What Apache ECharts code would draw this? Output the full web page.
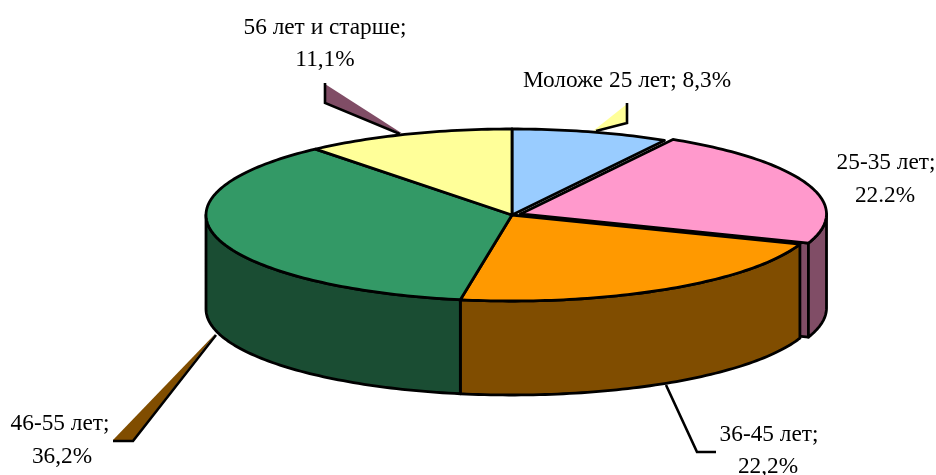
<!DOCTYPE html>
<html>
<head>
<meta charset="utf-8">
<style>
  html, body { margin: 0; padding: 0; background: #fff; }
  #chart { width: 936px; height: 475px; }
</style>
<script src="https://cdn.jsdelivr.net/npm/echarts@6/dist/echarts.min.js"></script>
</head>
<body>
<div id="chart"></div>
<script>
// доли возрастных групп, %
const categories = ['Моложе 25 лет', '25-35 лет', '36-45 лет', '46-55 лет', '56 лет и старше']
const shares = [8.3, 22.2, 22.2, 36.2, 11.1]
const shareLabels = ['8,3%', '22.2%', '22,2%', '36,2%', '11,1%']

const topColors = ['#99CCFF', '#FF99CC', '#FF9900', '#339966', '#FFFF99']
const sideColors = ['#4D6680', '#804D66', '#804D00', '#1A4D33', '#80804D']

const cx = 512
const cy = 215
const rx = 306
const ry = 86
const depth = 94
const lineW = 2.8
// смещение выдвинутого сектора
const offsets = { 1: [8.5, -1] }

const total = shares.reduce((a, b) => a + b, 0)

function toAngle (v) {
  return echarts.number.linearMap(v, [0, total], [0, Math.PI * 2])
}

function sliceRange (i) {
  const before = shares.slice(0, i).reduce((a, b) => a + b, 0)
  return [toAngle(before), toAngle(before + shares[i])]
}

function rimPoints (a0, a1, ox, oy) {
  const pts = []
  const steps = Math.max(2, Math.ceil((a1 - a0) / 0.02))
  for (let k = 0; k <= steps; k++) {
    const a = a0 + (a1 - a0) * k / steps
    pts.push([cx + ox + rx * Math.sin(a), cy + oy - ry * Math.cos(a)])
  }
  return pts
}

function outline (fill) {
  return { fill: fill, stroke: '#000', lineWidth: lineW, lineJoin: 'round' }
}

// боковые стенки, только передняя половина эллипса
function renderWall (params) {
  const i = params.dataIndex
  const range = sliceRange(i)
  const off = offsets[i] || [0, 0]
  const children = []
  if (offsets[i]) {
    const end = rimPoints(range[1], range[1], off[0], off[1])[0]
    const mid = [cx + off[0], cy + off[1]]
    children.push({
      type: 'polygon',
      shape: { points: [mid, end, [end[0], end[1] + depth], [mid[0], mid[1] + depth]] },
      style: outline(sideColors[i])
    })
  }
  const a0 = Math.max(range[0], Math.PI / 2)
  const a1 = Math.min(range[1], Math.PI * 1.5)
  if (a1 > a0) {
    const upper = rimPoints(a0, a1, off[0], off[1])
    const lower = upper.map(p => [p[0], p[1] + depth]).reverse()
    children.push({
      type: 'polygon',
      shape: { points: upper.concat(lower) },
      style: outline(sideColors[i])
    })
  }
  return { type: 'group', children: children }
}

function renderTop (params) {
  const i = params.dataIndex
  const range = sliceRange(i)
  const off = offsets[i] || [0, 0]
  const pts = rimPoints(range[0], range[1], off[0], off[1])
  pts.unshift([cx + off[0], cy + off[1]])
  return { type: 'polygon', shape: { points: pts }, style: outline(topColors[i]) }
}

// выноски
function wedge (fillPts, linePts, fill) {
  return [
    { type: 'polygon', z: 1, silent: true, shape: { points: fillPts }, style: { fill: fill } },
    { type: 'polyline', z: 1, silent: true, shape: { points: linePts }, style: { stroke: '#000', lineWidth: 2.6, fill: 'none' } }
  ]
}

function label (text, x, y) {
  return {
    type: 'text', z: 10, silent: true, x: x, y: y,
    style: {
      text: text, fill: '#000', font: '23.3px "Liberation Serif"',
      align: 'center', verticalAlign: 'middle'
    }
  }
}

const leaders = [].concat(
  wedge([[627, 104], [627, 123], [593, 131]], [[627, 103], [627, 123], [596, 131]], topColors[4]),
  wedge([[325, 84], [325, 103], [403, 134]], [[325, 83], [325, 103], [400, 134]], sideColors[1]),
  wedge([[113, 440], [133, 440], [216, 333]], [[113, 441], [133, 441], [216, 335]], sideColors[2]),
  [{
    type: 'polyline', z: 1, silent: true,
    shape: { points: [[666, 385], [697, 452], [716, 452]] },
    style: { stroke: '#000', lineWidth: 2.6, fill: 'none' }
  }]
)

const labels = [
  label(categories[0] + '; ' + shareLabels[0], 627, 81),
  label(categories[1] + ';', 886, 163),
  label(shareLabels[1], 885, 196),
  label(categories[2] + ';', 769, 435),
  label(shareLabels[2], 768, 467),
  label(categories[3] + ';', 60, 424),
  label(shareLabels[3], 62, 457),
  label(categories[4] + ';', 325, 28),
  label(shareLabels[4], 325, 60)
]

const myChart = echarts.init(document.getElementById('chart'))
myChart.setOption({
  animation: false,
  backgroundColor: '#fff',
  graphic: { elements: leaders.concat(labels) },
  series: [
    { type: 'custom', coordinateSystem: 'none', z: 2, silent: true, renderItem: renderWall, data: shares },
    { type: 'custom', coordinateSystem: 'none', z: 3, silent: true, renderItem: renderTop, data: shares }
  ]
})
</script>
</body>
</html>
